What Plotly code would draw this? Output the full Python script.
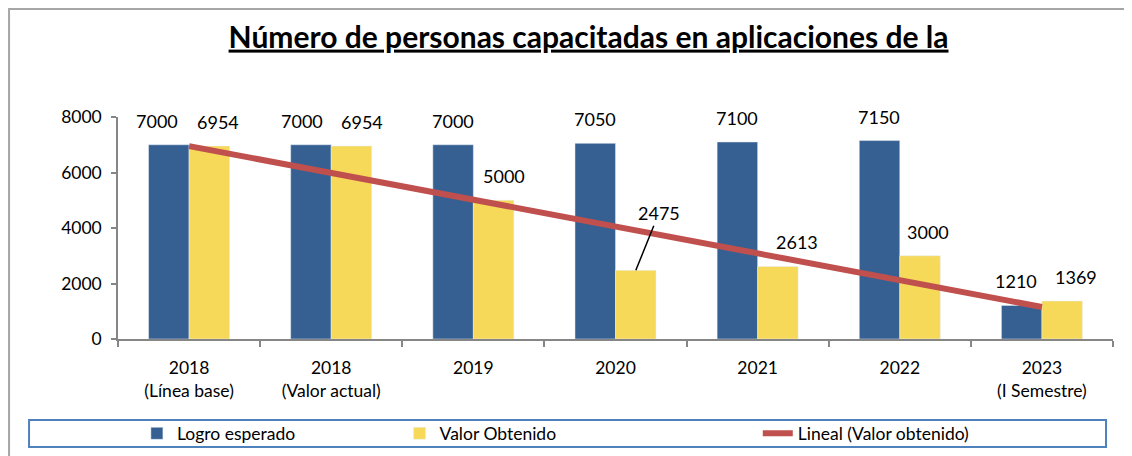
import numpy as np
import plotly.graph_objects as go

categorias = ["2018<br>(Línea base)", "2018<br>(Valor actual)", "2019", "2020",
              "2021", "2022", "2023<br>(I Semestre)"]
logro_esperado = [7000, 7000, 7000, 7050, 7100, 7150, 1210]
valor_obtenido = [6954, 6954, 5000, 2475, 2613, 3000, 1369]

AZUL = "#366092"
AMARILLO = "#F7D95A"
ROJO = "#C0504D"
FUENTE = "Lato"

# linea de tendencia lineal sobre el valor obtenido (como en Excel)
idx = np.arange(len(categorias))
pendiente, intercepto = np.polyfit(idx, valor_obtenido, 1)
tendencia = pendiente * idx + intercepto

fig = go.Figure()
fig.add_trace(go.Bar(x=categorias, y=logro_esperado, name="Logro esperado",
                     marker_color=AZUL, legend="legend"))
fig.add_trace(go.Bar(x=categorias, y=valor_obtenido, name="Valor Obtenido",
                     marker_color=AMARILLO, legend="legend2"))
fig.add_trace(go.Scatter(x=categorias, y=tendencia, mode="lines",
                         name="Lineal (Valor obtenido)",
                         line=dict(color=ROJO, width=6), legend="legend3"))

# etiquetas de datos (con los pequeños desplazamientos manuales del original)
mov_azul = [-12, -9, 0, 0, 0, 0, -6]
mov_amar = [9, 10, 10, 0, 19, 8, 14]
for i in range(len(categorias)):
    fig.add_annotation(x=i - 0.143, y=logro_esperado[i], text=str(logro_esperado[i]),
                       showarrow=False, yshift=24, xshift=mov_azul[i])
    if i == 3:
        fig.add_annotation(x=i + 0.143, y=valor_obtenido[i], text=str(valor_obtenido[i]),
                           showarrow=True, arrowhead=0, arrowwidth=1.5,
                           arrowcolor="black", ax=23, ay=-57, standoff=0)
    else:
        fig.add_annotation(x=i + 0.143, y=valor_obtenido[i], text=str(valor_obtenido[i]),
                           showarrow=False, yshift=24, xshift=mov_amar[i])

# marco exterior y recuadro de la leyenda
fig.add_shape(type="rect", xref="paper", yref="paper", x0=-0.1095, x1=1.03,
              y0=-0.6, y1=1.486, line=dict(color="#A6A6A6", width=2))
fig.add_shape(type="rect", xref="paper", yref="paper", x0=-0.0894, x1=0.993,
              y0=-0.4865, y1=-0.365, line=dict(color="#4F81BD", width=2))

leyenda = dict(orientation="h", yanchor="middle", y=-0.4255, xanchor="left",
               bgcolor="rgba(0,0,0,0)", font=dict(size=17.5, color="black"))

# la pagina deja 8 px de margen al body, por eso 1124x448
fig.update_layout(
    width=1124, height=448,
    margin=dict(l=110, r=19, t=109, b=117, autoexpand=False),
    paper_bgcolor="white", plot_bgcolor="white",
    font=dict(family=FUENTE, size=18, color="black"),
    title=dict(text="<b><u>Número de personas capacitadas en aplicaciones de la</u></b>",
               x=0.5165, xanchor="center", y=0.935, yanchor="middle",
               font=dict(size=30, color="black")),
    barmode="group", bargap=0.43, bargroupgap=0,
    showlegend=True,
    legend=dict(leyenda, x=0.019),
    legend2=dict(leyenda, x=0.283),
    legend3=dict(leyenda, x=0.643),
)
fig.update_xaxes(showline=True, linecolor="#868686", linewidth=1.5,
                 ticks="outside", tickson="boundaries", ticklen=6,
                 tickcolor="#868686", tickwidth=1.5, showgrid=False,
                 tickfont=dict(size=17.5), ticklabelstandoff=12)
fig.update_yaxes(range=[0, 8000], tickvals=[0, 2000, 4000, 6000, 8000],
                 showline=True, linecolor="#868686", linewidth=1.5,
                 ticks="outside", ticklen=5, tickcolor="#868686", tickwidth=1.5,
                 showgrid=False, zeroline=False, ticklabelstandoff=6,
                 tickfont=dict(size=17.5))

fig.write_html("out.html")
